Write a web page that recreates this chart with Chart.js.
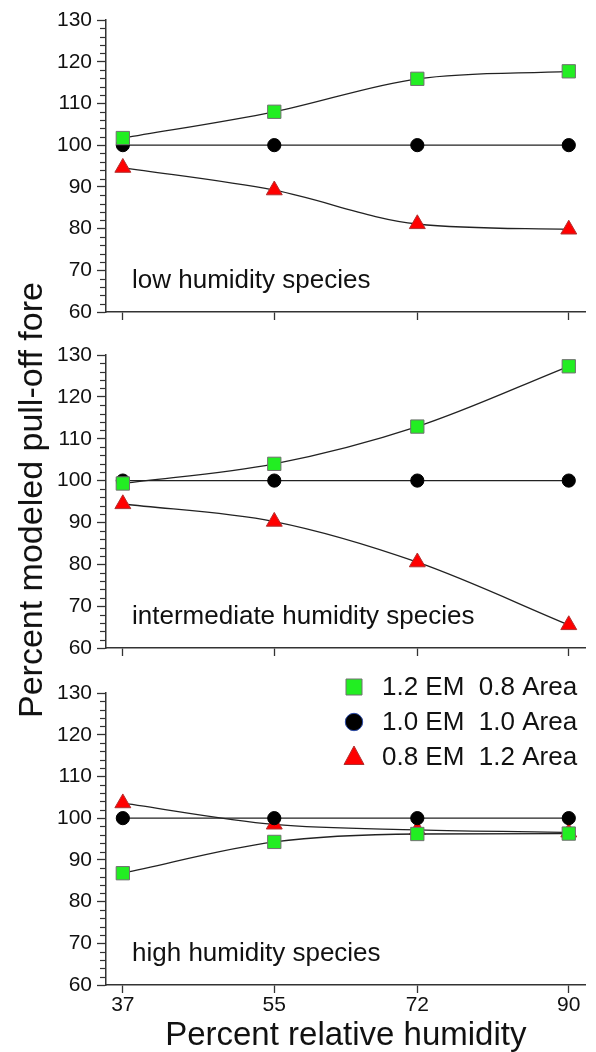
<!DOCTYPE html>
<html>
<head>
<meta charset="utf-8">
<title>Modeled pull-off force vs relative humidity</title>
<script src="https://cdn.jsdelivr.net/npm/chart.js@4.4.0/dist/chart.umd.min.js"></script>
<style>
  body { margin: 0; background: #fff; }
  #wrap { position: relative; width: 596px; height: 1052px; overflow: hidden; }
  #wrap canvas { position: absolute; left: 0; }
  #ytitle {
    position: absolute; left: 30px; top: 500px;
    transform: translate(-50%, -50%) rotate(-90deg);
    font: 34px "Liberation Sans", Arial, Helvetica, sans-serif;
    line-height: 1; white-space: nowrap; color: #111;
  }
</style>
</head>
<body>
<div id="wrap">
  <canvas id="c1" width="596" height="335" style="top:0px"></canvas>
  <canvas id="c2" width="596" height="335" style="top:335px"></canvas>
  <canvas id="c3" width="596" height="382" style="top:670px"></canvas>
  <div id="ytitle">Percent modeled pull-off fore</div>
</div>

<script>
  // humidity levels and the three EM / area combinations
  var humidity = [37, 55, 72, 90];
  var seriesLabels = ["1.2 EM  0.8 Area", "1.0 EM  1.0 Area", "0.8 EM  1.2 Area"];
  var panelNames = ["low humidity species", "intermediate humidity species", "high humidity species"];

  var lowGreen = [101.7, 108.0, 115.9, 117.7];
  var lowBlack = [100, 100, 100, 100];
  var lowRed = [94.6, 89.2, 81.1, 79.8];

  var midGreen = [99.3, 104.0, 112.9, 127.3];
  var midBlack = [100, 100, 100, 100];
  var midRed = [94.4, 90.2, 80.5, 65.5];

  var highGreen = [86.8, 94.3, 96.2, 96.3];
  var highBlack = [100, 100, 100, 100];
  var highRed = [103.6, 98.5, 97.2, 96.6];

  var FONT = "'Liberation Sans', Arial, Helvetica, sans-serif";
  var INK = "#111";

  function points(values) {
    return values.map(function (v, i) { return { x: humidity[i], y: v }; });
  }

  function series(values, idx) {
    var styles = [
      { pointStyle: "rect", radius: 9.4, bg: "#22ee22", border: "#707070" },
      { pointStyle: "circle", radius: 6.6, bg: "#000", border: "#000" },
      { pointStyle: "triangle", radius: 9.2, bg: "#ff0000", border: "#b03030" }
    ];
    var s = styles[idx];
    return {
      label: seriesLabels[idx],
      data: points(values),
      borderColor: "#222",
      borderWidth: 1.3,
      cubicInterpolationMode: "monotone",
      pointStyle: s.pointStyle,
      pointRadius: s.radius,
      pointBackgroundColor: s.bg,
      pointBorderColor: s.border,
      pointBorderWidth: 1,
      clip: false
    };
  }

  // minor y ticks every 2 units plus the panel caption
  var panelExtras = {
    id: "panelExtras",
    afterDraw: function (chart, args, opts) {
      var ctx = chart.ctx;
      var ys = chart.scales.y;
      var area = chart.chartArea;
      ctx.save();
      ctx.strokeStyle = "#333";
      ctx.lineWidth = 1.2;
      for (var v = ys.min; v <= ys.max; v += 2) {
        if (v % 10 === 0) continue;
        var py = Math.round(ys.getPixelForValue(v)) + 0.5;
        ctx.beginPath();
        ctx.moveTo(area.left - 6, py);
        ctx.lineTo(area.left, py);
        ctx.stroke();
      }
      ctx.fillStyle = INK;
      ctx.font = "26px " + FONT;
      ctx.textBaseline = "alphabetic";
      ctx.textAlign = "left";
      ctx.fillText(opts.caption, area.left + 26, area.bottom - 24);
      ctx.restore();
    }
  };

  // legend block inside the bottom panel, markers a bit larger than in the plot
  var cornerLegend = {
    id: "cornerLegend",
    afterDraw: function (chart, args, opts) {
      if (!opts.show) return;
      var ctx = chart.ctx;
      ctx.save();
      chart.data.datasets.forEach(function (ds, i) {
        var cx = 354, cy = 17 + i * 35;
        ctx.fillStyle = ds.pointBackgroundColor;
        ctx.strokeStyle = i === 1 ? "#2a4aa8" : ds.pointBorderColor;
        ctx.lineWidth = 1;
        ctx.beginPath();
        if (ds.pointStyle === "rect") {
          ctx.rect(cx - 8, cy - 8, 16, 16);
        } else if (ds.pointStyle === "circle") {
          ctx.arc(cx, cy, 8.7, 0, Math.PI * 2);
        } else {
          ctx.moveTo(cx, cy - 11);
          ctx.lineTo(cx + 10, cy + 7.5);
          ctx.lineTo(cx - 10, cy + 7.5);
          ctx.closePath();
        }
        ctx.fill();
        ctx.stroke();
        ctx.fillStyle = INK;
        ctx.font = "26px " + FONT;
        ctx.textBaseline = "middle";
        ctx.fillText(ds.label, 382, cy + 1);
      });
      ctx.restore();
    }
  };

  function makePanel(id, idx, green, black, red, bottomHeight, padTop, isBottom) {
    return new Chart(document.getElementById(id), {
      type: "line",
      data: { datasets: [series(green, 0), series(black, 1), series(red, 2)] },
      plugins: [panelExtras, cornerLegend],
      options: {
        responsive: false,
        animation: false,
        layout: { padding: { top: padTop, right: 3, left: 0, bottom: 0 } },
        plugins: {
          legend: { display: false },
          tooltip: { enabled: false },
          panelExtras: { caption: panelNames[idx] },
          cornerLegend: { show: isBottom }
        },
        scales: {
          x: {
            type: "linear",
            min: 35,
            max: 92,
            afterBuildTicks: function (s) {
              s.ticks = humidity.map(function (v) { return { value: v }; });
            },
            afterFit: function (s) { s.height = bottomHeight; },
            grid: { drawOnChartArea: false, tickLength: 8, tickColor: "#333", tickWidth: 1.3 },
            border: { color: "#333", width: 1.5 },
            ticks: {
              display: isBottom,
              padding: 0,
              color: INK,
              font: { family: FONT, size: 21 },
              maxRotation: 0
            },
            title: {
              display: isBottom,
              text: "Percent relative humidity",
              color: INK,
              font: { family: FONT, size: 33, lineHeight: 1 },
              padding: { top: 0, bottom: 0 }
            }
          },
          y: {
            min: 60,
            max: 130,
            afterFit: function (s) { s.width = 106; },
            grid: { drawOnChartArea: false, tickLength: 9, tickColor: "#333", tickWidth: 1.3 },
            border: { color: "#333", width: 1.5 },
            ticks: {
              stepSize: 10,
              padding: 5,
              color: INK,
              font: { family: FONT, size: 21 }
            }
          }
        }
      }
    });
  }

  makePanel("c1", 0, lowGreen, lowBlack, lowRed, 23, 20, false);
  makePanel("c2", 1, midGreen, midBlack, midRed, 22, 20, false);
  makePanel("c3", 2, highGreen, highBlack, highRed, 67, 23, true);
</script>
</body>
</html>
